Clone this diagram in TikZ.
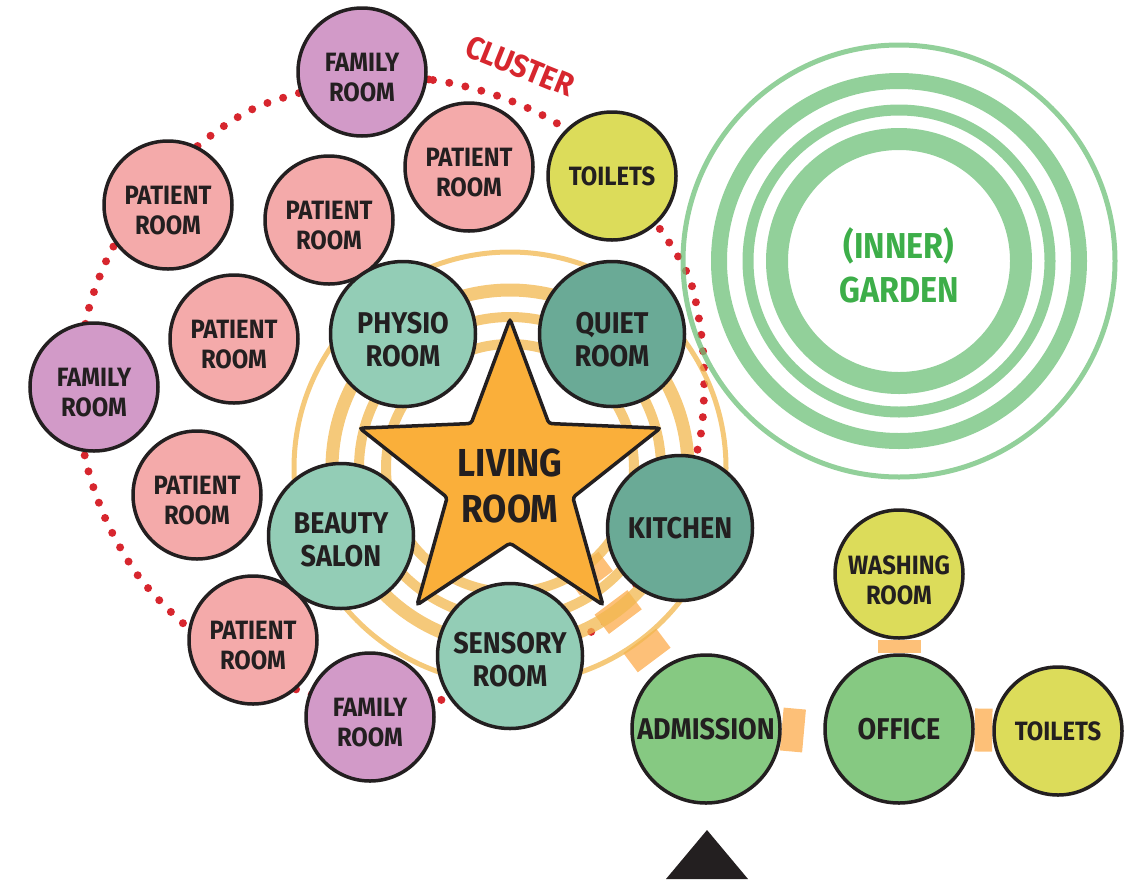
\documentclass[tikz,border=0pt]{standalone}
\usepackage{fontspec}
\setsansfont{Fira Sans}[FakeStretch=0.9]
\usepackage{tikz}
\usetikzlibrary{shapes.geometric, calc, backgrounds}
\definecolor{ink}{RGB}{35,31,32}
\definecolor{patientpink}{RGB}{244,170,170}
\definecolor{familypurple}{RGB}{210,154,200}
\definecolor{wetyellow}{RGB}{220,220,90}
\definecolor{careteal}{RGB}{147,205,182}
\definecolor{calmteal}{RGB}{106,170,150}
\definecolor{staffgreen}{RGB}{134,201,130}
\definecolor{starorange}{RGB}{250,175,58}
\definecolor{ringorange}{RGB}{242,183,78}
\definecolor{linkorange}{RGB}{253,192,120}
\definecolor{gardengreen}{RGB}{110,192,120}
\definecolor{gardentext}{RGB}{61,174,73}
\definecolor{clusterred}{RGB}{215,38,46}

\begin{document}
\begin{tikzpicture}[x=1pt, y=-1pt,
  bubble/.style={circle, draw=ink, line width=3.5pt, text=ink, align=center, inner sep=0pt},
  bubblesm/.style={bubble, minimum size=128pt, font=\sffamily\bfseries\fontsize{26.5}{30}\selectfont},
  bubblebg/.style={bubble, minimum size=145pt, font=\sffamily\bfseries\fontsize{30}{33}\selectfont},
  smalltext/.style={align=center, text=ink, yshift=-6pt, font=\sffamily\bfseries\fontsize{26.5}{30}\selectfont},
  bigtext/.style={align=center, text=ink, yshift=-6pt, font=\sffamily\bfseries\fontsize{30}{33}\selectfont},
  patientroom/.style={bubblesm, fill=patientpink, label={[smalltext]center:PATIENT\\ROOM}},
  familyroom/.style={bubblesm, fill=familypurple, label={[smalltext]center:FAMILY\\ROOM}},
  wetroom/.style={bubblesm, fill=wetyellow},
  careroom/.style={bubblebg, fill=careteal},
  calmroom/.style={bubblebg, fill=calmteal},
  staffroom/.style={bubblebg, fill=staffgreen, minimum size=148pt},
  orangering/.style={draw=ringorange, opacity=0.75},
  greenring/.style={draw=gardengreen, opacity=0.75},
  linkbar/.style={draw=linkorange, line width=43pt},
  corridor/.style={draw=linkorange, line width=41pt, dash pattern=on 24pt off 24pt},
  clusterdots/.style={draw=clusterred, line width=8pt, line cap=round, dash pattern=on 0pt off 16.5pt},
]
  \useasboundingbox (0,0) rectangle (1138,879);

  % cluster of rooms
  \node[familyroom] (famtop) at (362,72) {};
  \node[patientroom] (pat1) at (469,167) {};
  \node[wetroom] (toilets1) at (612,176) {TOILETS};
  \node[patientroom] (pat2) at (329,220) {};
  \node[patientroom] (pat3) at (168,205) {};
  \node[patientroom] (pat4) at (234,339) {};
  \node[familyroom] (famleft) at (94,387) {};
  \node[patientroom] (pat5) at (197,495) {};
  \node[patientroom] (pat6) at (253,640) {};
  \node[familyroom] (fambot) at (370,717) {};

  % around the living room
  \coordinate (ringc) at (510,468);
  \node[star, star points=5, star point ratio=2.39, minimum size=316pt, inner sep=0pt,
        fill=starorange, draw=ink, line width=3.5pt, rounded corners=3pt] (living) at (510,477) {};
  \node[font=\sffamily\bfseries\fontsize{39}{46}\selectfont, text=ink, align=center] (livingtext) at (510,486) {LIVING\\ROOM};
  \node[careroom, label={[bigtext]center:PHYSIO\\ROOM}] (physio) at (403,334) {};
  \node[calmroom, label={[bigtext]center:QUIET\\ROOM}] (quiet) at (612,334) {};
  \node[careroom, label={[bigtext, yshift=2.5pt]center:BEAUTY\\SALON}] (beauty) at (341,536) {};
  \node[careroom, label={[bigtext, yshift=2pt]center:SENSORY\\ROOM}] (sensory) at (510,656) {};
  \node[calmroom] (kitchen) at (680,528) {KITCHEN};

  % entrance side
  \node[staffroom] (admission) at (706,729) {ADMISSION};
  \node[staffroom] (office) at (899,729) {OFFICE};
  \node[wetroom, label={[smalltext]center:WASHING\\ROOM}] (washing) at (899,574) {};
  \node[wetroom] (toilets2) at (1058,731) {TOILETS};
  \coordinate (admstub) at (804,731);

  \node[font=\sffamily\bfseries\fontsize{36}{44}\selectfont, text=gardentext, align=center] (garden) at (899,265) {(INNER)\\GARDEN};
  \coordinate (gardenc) at (899,261);
  \node[font=\sffamily\bfseries\fontsize{32}{36}\selectfont, text=clusterred, rotate=-22] (cluster) at (520,66) {CLUSTER};

  \fill[ink] (666,879) -- (707,830) -- (748,879) -- cycle;

  \begin{scope}[on background layer]
    \draw[clusterdots] plot[smooth cycle] coordinates {
      (362,78) (433,80) (498,96) (558,124) (615,172) (662,232) (690,280) (702,340)
      (704,395) (698,448) (670,525) (627,597) (591,632) (515,672) (441,700) (370,708)
      (301,691) (240,665) (185,625) (139,577) (106,520) (85,457) (80,387) (87,316)
      (110,253) (150,192) (205,140) (262,105)};
    \draw[corridor] ($(ringc)!0.368!(admission)$) -- ($(ringc)!0.745!(admission)$);
    \draw[orangering, line width=5pt] (ringc) circle[radius=216];
    \draw[orangering, line width=13pt] (ringc) circle[radius=178];
    \draw[orangering, line width=10pt] (ringc) circle[radius=151];
    \draw[orangering, line width=10pt] (ringc) circle[radius=124];
    \draw[greenring, line width=5pt] (gardenc) circle[radius=216];
    \draw[greenring, line width=16pt] (gardenc) circle[radius=180];
    \draw[greenring, line width=11pt] (gardenc) circle[radius=151];
    \draw[greenring, line width=22pt] (gardenc) circle[radius=122];
    \draw[linkbar] (washing) -- (office);
    \draw[linkbar] (office) -- (toilets2);
    \draw[linkbar] (admission.east) -- (admstub);
  \end{scope}
\end{tikzpicture}
\end{document}
